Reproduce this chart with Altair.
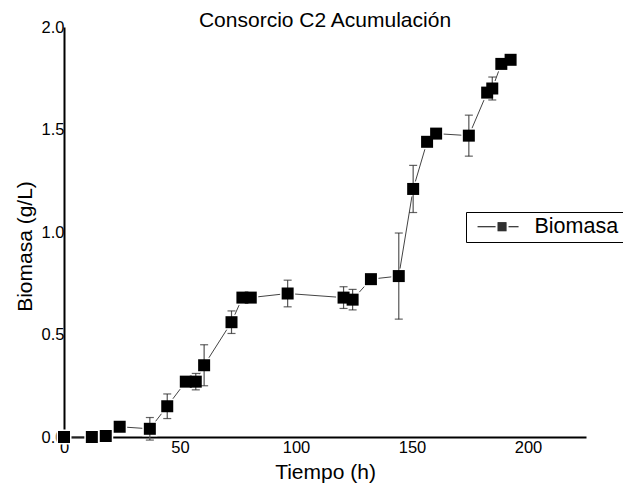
import altair as alt
import pandas as pd

# Biomass accumulation of consortium C2 over time
tiempo = [0, 12, 18, 24, 37, 44.5, 52.5, 56.8, 60.4, 72.2, 76.9, 80.5, 96.4,
          120.5, 124.4, 132.3, 144.3, 150.5, 156.5, 160.4, 174.5, 182.4, 184.6,
          188.5, 192.5]
biomasa = [0.0, 0.0, 0.005, 0.05, 0.04, 0.15, 0.27, 0.27, 0.35, 0.56, 0.68,
           0.68, 0.70, 0.68, 0.67, 0.77, 0.785, 1.21, 1.44, 1.48, 1.47, 1.68,
           1.70, 1.82, 1.84]
desv = [0.0, 0.0, 0.01, 0.0, 0.055, 0.06, 0.0, 0.04, 0.10, 0.055, 0.0, 0.0,
        0.065, 0.053, 0.05, 0.0, 0.21, 0.115, 0.0, 0.0, 0.10, 0.0, 0.056, 0.0,
        0.0]
x_ticks = [0, 50, 100, 150, 200]
y_ticks = [0.0, 0.5, 1.0, 1.5, 2.0]

FONT = "Liberation Sans"

df = pd.DataFrame({"t": tiempo, "b": biomasa, "err": desv})
df["lo"] = df["b"] - df["err"]
df["hi"] = df["b"] + df["err"]
df["serie"] = "Biomasa"

x_enc = alt.X("t:Q", scale=alt.Scale(domain=[0, 225], nice=False),
              axis=alt.Axis(values=x_ticks, title="Tiempo (h)", ticks=False,
                            grid=False, labelFlush=False, domainColor="black",
                            domainWidth=2, labelFontSize=16.5, labelFont=FONT,
                            labelColor="black", labelPadding=2,
                            titleFontSize=21, titleFont=FONT,
                            titleFontWeight="normal", titleColor="black",
                            titlePadding=6))
y_enc = alt.Y("b:Q", scale=alt.Scale(domain=[0, 2], nice=False),
              axis=alt.Axis(values=y_ticks, format=".1f", title="Biomasa (g/L)",
                            ticks=False, grid=False, labelFlush=False,
                            domainColor="black", domainWidth=2,
                            labelFontSize=16.5, labelFont=FONT,
                            labelColor="black", labelPadding=0,
                            titleFontSize=21, titleFont=FONT,
                            titleFontWeight="normal", titleColor="black",
                            titlePadding=6, titleY=219))

base = alt.Chart(df)

line = base.mark_line(color="#444", strokeWidth=1).encode(x=x_enc, y=y_enc)

halo = base.mark_point(shape="square", filled=True, size=225, color="white",
                       opacity=1).encode(x="t:Q", y="b:Q")

bars = base.transform_filter("datum.err > 0")
rules = bars.mark_rule(color="#555", strokeWidth=1.2).encode(
    x="t:Q", y="lo:Q", y2="hi:Q")
caps_lo = bars.mark_tick(color="#222", orient="horizontal", size=8,
                         thickness=1.2).encode(x="t:Q", y="lo:Q")
caps_hi = bars.mark_tick(color="#222", orient="horizontal", size=8,
                         thickness=1.2).encode(x="t:Q", y="hi:Q")

# legend symbol: short line with a small filled square in its middle
# (unit = 8 px, path drawn to the right of the symbol anchor)
sq = ["M2.1,{:.3f}H3.225".format(-0.5 + i * 0.125) for i in range(9)]
sym_path = "M-0.4,0H1.85M3.475,0H4.725" + "".join(sq)

points = base.mark_point(shape="square", filled=True, size=144,
                         opacity=1).encode(
    x="t:Q", y="b:Q",
    color=alt.Color("serie:N", scale=alt.Scale(range=["black"]),
                    legend=alt.Legend(
                        title=None, orient="none", legendX=402, legendY=185,
                        padding=4, strokeColor="black", fillColor="white",
                        cornerRadius=0, labelFontSize=21.5, labelFont=FONT,
                        labelColor="black", labelOffset=43,
                        symbolType=sym_path, symbolSize=256,
                        symbolStrokeWidth=1, symbolStrokeColor="black",
                        symbolFillColor="black")))

chart = alt.layer(line, halo, rules, caps_lo, caps_hi, points).properties(
    width=522, height=410,
    title=alt.TitleParams("Consorcio C2 Acumulación", fontSize=21, font=FONT,
                          fontWeight="normal", color="black", anchor="middle",
                          offset=4, dy=16),
).configure(
    autosize="none",
    padding={"left": 64, "top": 27, "right": 37, "bottom": 53},
).configure_view(stroke=None)

chart.save("out.html", embed_options={"renderer": "svg", "actions": False})
